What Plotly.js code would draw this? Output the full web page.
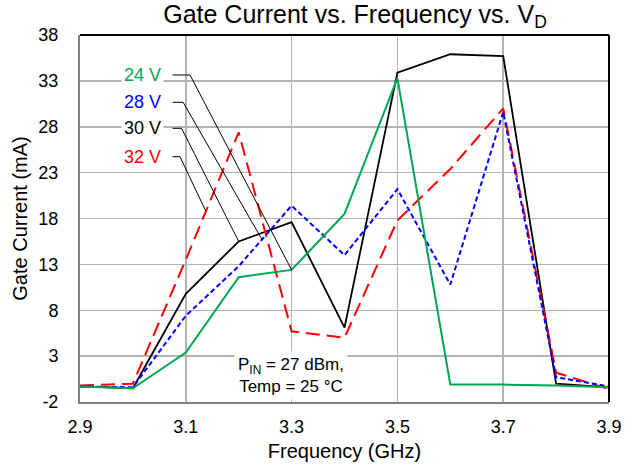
<!DOCTYPE html>
<html>
<head>
<meta charset="utf-8">
<script src="https://cdn.plot.ly/plotly-3.0.1.min.js"></script>
<style>html,body{margin:0;padding:0;background:#fff;}#chart{width:634px;height:468px;}</style>
</head>
<body>
<div id="chart"></div>
<script>
// Data
const freq = [2.9, 3.0, 3.1, 3.2, 3.3, 3.4, 3.5, 3.6, 3.7, 3.8, 3.9];
const v24 = [-0.3, -0.5, 3.4, 11.6, 12.4, 18.5, 33.3, -0.1, -0.1, -0.2, -0.4];
const v28 = [-0.3, -0.4, 7.4, 12.8, 19.4, 14.0, 21.2, 10.8, 29.6, 0.7, -0.3];
const v30 = [-0.3, -0.5, 9.8, 15.5, 17.6, 6.1, 33.9, 35.9, 35.7, 0.0, -0.4];
const v32 = [-0.2, 0.0, 13.5, 27.4, 5.7, 5.0, 17.8, 23.4, 30.0, 1.2, -0.6];
const seriesNames = ['24 V', '28 V', '30 V', '32 V'];
const yTicks = [-2, 3, 8, 13, 18, 23, 28, 33, 38];
const xTicks = [2.9, 3.1, 3.3, 3.5, 3.7, 3.9];

const font = 'Liberation Sans, Arial, sans-serif';
const colors = ['#00a651', '#0000ff', '#000000', '#ff0000'];
const dashes = ['solid', '5px,3px', 'solid', '14px,7px'];
const widths = [2, 2, 1.8, 2];
const allSeries = [v24, v28, v30, v32];

const traces = allSeries.map((ys, i) => ({
  x: freq, y: ys, type: 'scatter', mode: 'lines', name: seriesNames[i],
  line: {color: colors[i], width: widths[i], dash: dashes[i]},
  hoverinfo: 'skip'
}));
const order = [2, 3, 1, 0];
const data = order.map(i => traces[i]);

function interp(ys, x) {
  for (let k = 0; k < freq.length - 1; k++) {
    if (x >= freq[k] && x <= freq[k + 1]) {
      const t = (x - freq[k]) / (freq[k + 1] - freq[k]);
      return ys[k] + t * (ys[k + 1] - ys[k]);
    }
  }
  return ys[ys.length - 1];
}

// leader lines: label y, corner x, target x
const leaders = [
  {y: 33.64, cx: 3.108, tx: 3.3},
  {y: 30.66, cx: 3.095, tx: 3.244},
  {y: 27.83, cx: 3.092, tx: 3.2},
  {y: 24.74, cx: 3.089, tx: 3.138}
];
const shapes = leaders.map((l, i) => {
  const ty = interp(allSeries[i], l.tx);
  return {
    type: 'path', xref: 'x', yref: 'y',
    path: `M 3.075 ${l.y} L ${l.cx} ${l.y} L ${l.tx} ${ty}`,
    line: {color: '#000', width: 1}, layer: 'above'
  };
});
shapes.push({type: 'line', xref: 'paper', yref: 'paper', x0: 0, x1: 1, y0: 1, y1: 1, line: {color: '#000', width: 2}});
shapes.push({type: 'line', xref: 'paper', yref: 'paper', x0: 1, x1: 1, y0: 0, y1: 1, line: {color: '#000', width: 2}});

const annotations = seriesNames.map((n, i) => ({
  x: 3.019, y: leaders[i].y, xref: 'x', yref: 'y', text: n, showarrow: false,
  font: {family: font, size: 18, color: colors[i]},
  bgcolor: '#fff', borderpad: 2, xanchor: 'center', yanchor: 'middle'
}));
annotations.push({
  x: 3.299, y: 0.9, xref: 'x', yref: 'y',
  text: 'P<sub>IN</sub> = 27 dBm,<br>Temp = 25 °C', showarrow: false,
  font: {family: font, size: 17, color: '#000'},
  bgcolor: '#fff', borderpad: 3, align: 'center', xanchor: 'center', yanchor: 'middle'
});

const layout = {
  width: 634, height: 468,
  margin: {l: 80, r: 25, t: 35, b: 66},
  paper_bgcolor: '#fff', plot_bgcolor: '#fff',
  showlegend: false,
  title: {text: 'Gate Current vs. Frequency vs. V<sub>D</sub>', font: {family: font, size: 25, color: '#000'},
          x: 0.56, xanchor: 'center', y: 0.988, yanchor: 'top'},
  xaxis: {
    range: [2.9, 3.9], tickvals: xTicks, ticktext: xTicks.map(v => v.toFixed(1)),
    showgrid: true, gridcolor: '#b3b3b3', gridwidth: 1.5,
    showline: true, linecolor: '#808080', linewidth: 2,
    ticks: '', ticklabelstandoff: 7,
    tickfont: {family: font, size: 18, color: '#000'},
    title: {text: 'Frequency (GHz)', font: {family: font, size: 20, color: '#000'}, standoff: 8},
    zeroline: false, fixedrange: true
  },
  yaxis: {
    range: [-2, 38], tickvals: yTicks, ticktext: yTicks.map(String),
    showgrid: true, gridcolor: '#b3b3b3', gridwidth: 1.5,
    showline: true, linecolor: '#808080', linewidth: 2,
    ticks: '', ticklabelstandoff: 16,
    tickfont: {family: font, size: 18, color: '#000'},
    title: {text: 'Gate Current (mA)', font: {family: font, size: 20, color: '#000'}, standoff: 5},
    zeroline: false, fixedrange: true
  },
  shapes: shapes,
  annotations: annotations
};

Plotly.newPlot('chart', data, layout, {displayModeBar: false, staticPlot: true});
</script>
</body>
</html>
